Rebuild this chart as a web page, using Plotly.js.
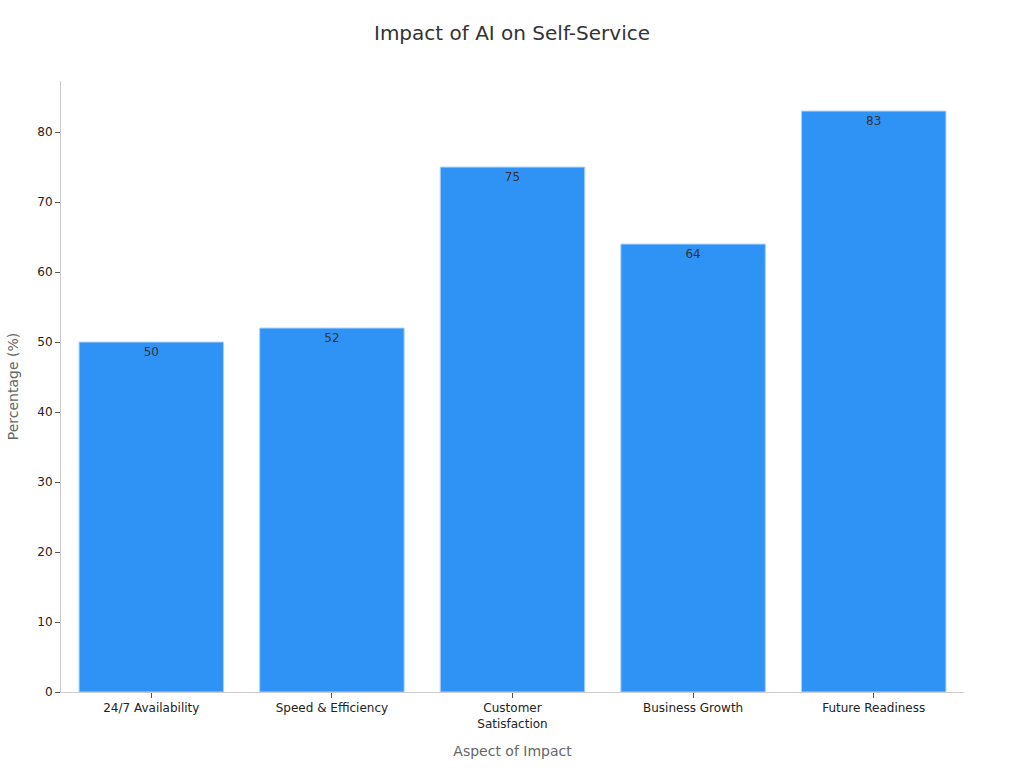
<!DOCTYPE html>
<html>
<head>
<meta charset="utf-8">
<script src="https://cdn.plot.ly/plotly-3.0.1.min.js"></script>
<style>html,body{margin:0;padding:0;background:#fff}#chart{width:1024px;height:768px}</style>
</head>
<body>
<div id="chart"></div>
<script>
const categories = ["24/7 Availability", "Speed & Efficiency", "Customer<br>Satisfaction", "Business Growth", "Future Readiness"];
const values = [50, 52, 75, 64, 83];
const tickValues = [0, 10, 20, 30, 40, 50, 60, 70, 80];

const trace = {
  type: "bar",
  x: categories,
  y: values,
  text: values.map(String),
  textposition: "inside",
  insidetextanchor: "end",
  textfont: {family: "DejaVu Sans", size: 12, color: "#333333"},
  marker: {color: "#2E93F5", line: {color: "#A9D1FA", width: 1}},
  hoverinfo: "x+y"
};

const layout = {
  width: 1024, height: 768,
  margin: {l: 61, r: 60, t: 81, b: 76},
  paper_bgcolor: "#ffffff",
  plot_bgcolor: "#ffffff",
  font: {family: "DejaVu Sans", color: "#222222"},
  title: {text: "Impact of AI on Self-Service", x: 0.5, xanchor: "center", y: 0.957, yanchor: "middle",
          font: {family: "DejaVu Sans", size: 20, color: "#333333"}},
  bargap: 0.2,
  showlegend: false,
  xaxis: {
    title: {text: "Aspect of Impact", font: {size: 14, color: "#666666"}, standoff: 16},
    showline: true, linecolor: "#cccccc", linewidth: 1,
    ticks: "outside", ticklen: 5, tickcolor: "#555555",
    tickfont: {size: 12, color: "#222222"},
    showgrid: false, zeroline: false, automargin: false
  },
  yaxis: {
    title: {text: "Percentage (%)", font: {size: 14, color: "#666666"}, standoff: 15},
    range: [0, 87.3],
    tickvals: tickValues,
    showline: true, linecolor: "#cccccc", linewidth: 1,
    ticks: "outside", ticklen: 5, tickcolor: "#555555",
    tickfont: {size: 12, color: "#222222"},
    showgrid: false, zeroline: false, automargin: false
  }
};

Plotly.newPlot("chart", [trace], layout, {displayModeBar: false, staticPlot: true});
</script>
</body>
</html>
